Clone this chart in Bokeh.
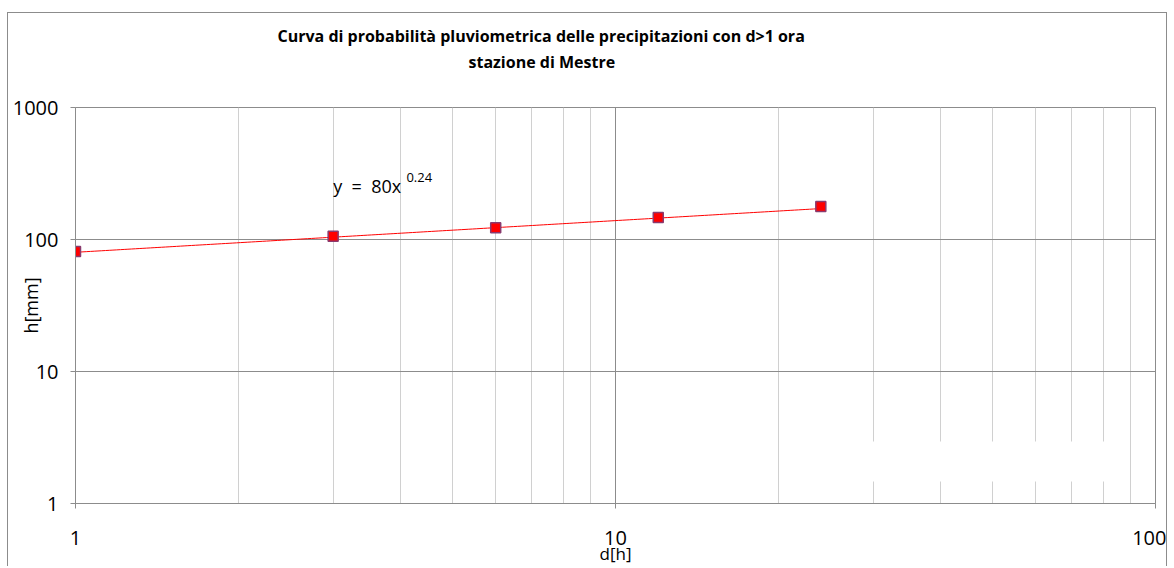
import numpy as np
from bokeh.plotting import figure
from bokeh.models import FixedTicker, PrintfTickFormatter, Label, BoxAnnotation, Title
from bokeh.embed import file_html
from bokeh.resources import INLINE

# data
durations = [1, 3, 6, 12, 24]          # d [h]
heights = [81, 106, 123, 147, 178]     # h [mm]
trend_a = 80.0
trend_b = 0.24
x_ticks = [1, 10, 100]
y_ticks = [1, 10, 100, 1000]
title_1 = "Curva di probabilità pluviometrica delle precipitazioni con d>1 ora"
title_2 = "stazione di Mestre"

FONT = "Open Sans"
GRID = "#8c8c8c"
MINOR = "#d0d0d0"
NB = "\u00a0"

p = figure(width=1160, height=554, x_axis_type="log", y_axis_type="log",
           x_range=(1, 100), y_range=(1, 1000), title=None,
           output_backend="svg", toolbar_location=None,
           min_border_left=67, min_border_right=13, min_border_top=94, min_border_bottom=64)
p.outline_line_color = GRID
p.background_fill_color = "white"
p.border_fill_color = "white"
p.styles = {"margin-left": "7px", "margin-top": "12px",
            "border-left": "1px solid #8c8c8c", "border-top": "1px solid #8c8c8c",
            "border-right": "1px solid #8c8c8c"}

minor_x = [m * 10 ** k for k in range(2) for m in range(2, 10)]
p.xaxis.ticker = FixedTicker(ticks=x_ticks, minor_ticks=minor_x)
p.yaxis.ticker = FixedTicker(ticks=y_ticks, minor_ticks=[])
p.xaxis.formatter = PrintfTickFormatter(format="%d")
p.yaxis.formatter = PrintfTickFormatter(format="%d")

for ax in (p.xaxis, p.yaxis):
    ax.axis_line_color = GRID
    ax.major_tick_line_color = GRID
    ax.major_tick_out = 5
    ax.major_tick_in = 0
    ax.minor_tick_line_color = None
    ax.major_label_text_font = FONT
    ax.major_label_text_font_size = "20px"
    ax.major_label_text_color = "black"
    ax.axis_label_text_font = FONT
    ax.axis_label_text_font_size = "17px"
    ax.axis_label_text_font_style = "normal"
    ax.axis_label_text_color = "black"

p.xaxis.axis_label = "d[h]"
p.yaxis.axis_label = "h[mm]"
p.yaxis.axis_label_text_font_size = "18px"
p.xaxis.major_label_standoff = 22
p.xaxis.axis_label_standoff = -6
p.yaxis.major_label_standoff = 12
p.yaxis.axis_label_standoff = -33

p.xgrid.grid_line_color = GRID
p.xgrid.minor_grid_line_color = MINOR
p.ygrid.grid_line_color = GRID
p.ygrid.minor_grid_line_color = None

# hidden-legend area that blanks the grid
p.add_layout(BoxAnnotation(left=29, right=82.6, bottom=1.47, top=2.95,
                           fill_color="white", fill_alpha=1.0, line_color=None))

# trendline y = a x^b
xt = np.logspace(0, np.log10(max(durations)), 200)
yt = trend_a * xt ** trend_b
p.line(xt, yt, line_color="#ff0000", line_width=1)

p.scatter(durations, heights, marker="square", size=10,
          fill_color="#ff0000", line_color="#8a3a6e", line_width=1.5)

p.add_layout(Label(x=3.0, y=255, text="y" + NB * 2 + "=" + NB * 2 + "80x",
                   text_font=FONT, text_color="black",
                   text_font_size="18px", text_baseline="middle"))
p.add_layout(Label(x=4.1, y=297, text="0.24", text_font=FONT, text_color="black",
                   text_font_size="13px", text_baseline="middle"))

# chart title (two lines, above the plot frame)
p.add_layout(Title(text=title_2, align="left", offset=393, standoff=70,
                   text_font=FONT, text_font_size="16px", text_font_style="bold",
                   text_color="black"), "above")
p.add_layout(Title(text=title_1, align="left", offset=202, standoff=-66,
                   text_font=FONT, text_font_size="16px", text_font_style="bold",
                   text_color="black"), "above")

open("out.html", "w").write(file_html(p, INLINE))
